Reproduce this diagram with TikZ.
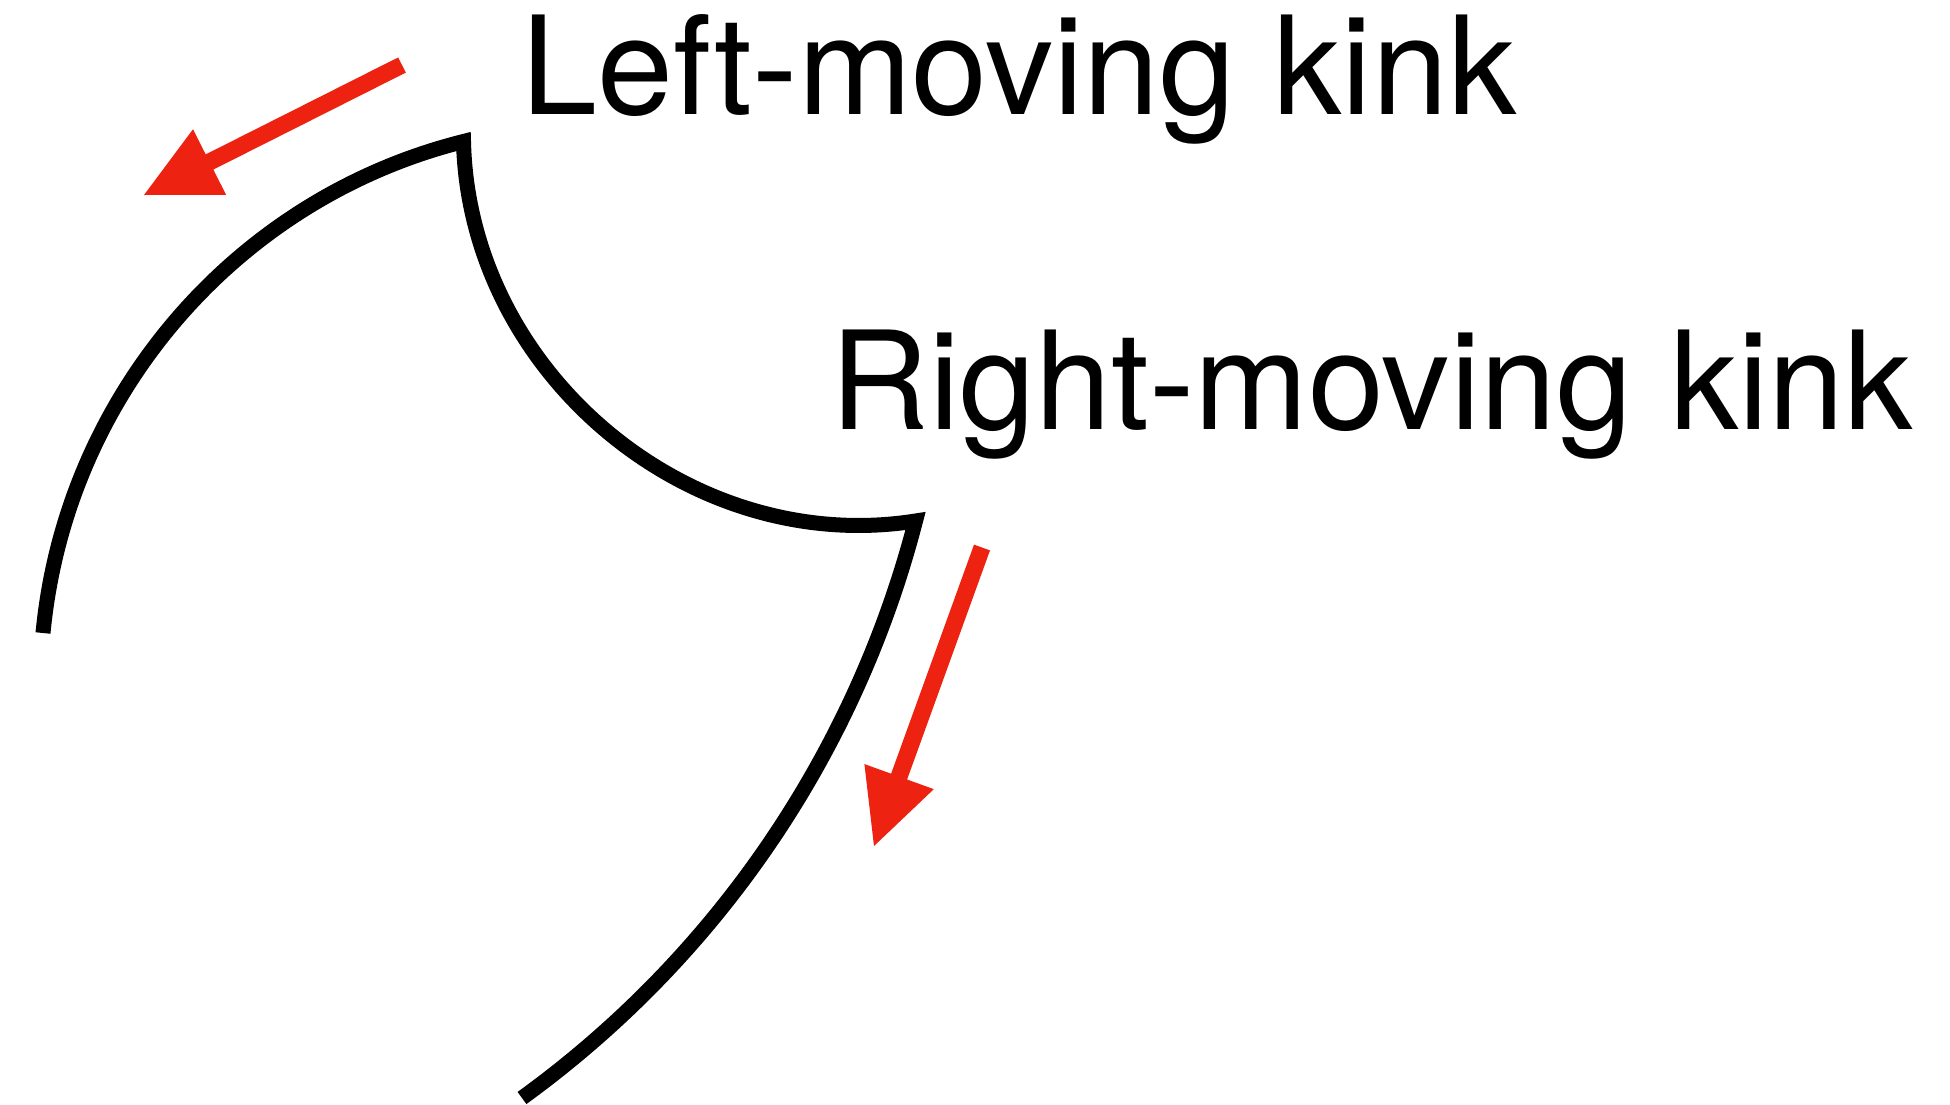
\documentclass[tikz,border=0pt]{standalone}
\usepackage{fontspec}
\setmainfont{TeX Gyre Heros}
\usetikzlibrary{calc}
\definecolor{kinkred}{RGB}{238,34,17}
\begin{document}
\begin{tikzpicture}[x=0.5pt,y=-0.5pt,
  kinkstring/.style={line width=7.5pt, line join=miter, line cap=butt, draw=black},
  arrowshaft/.style={line width=8.5pt, draw=kinkred, line cap=butt},
  tiphead/.style={fill=kinkred, draw=none},
  kinklabel/.style={font=\fontsize{68.3pt}{80pt}\selectfont, inner sep=0pt, anchor=base west}]
\path[use as bounding box] (0,0) rectangle (1950,1104);
% string with two kinks
\coordinate (E1) at (43,633);
\coordinate (K1) at (463.5,141.5);
\coordinate (K2) at (915.5,521);
\coordinate (E3) at (522,1098);
\draw[kinkstring] (E1) .. controls (65.4,397.5) and (234,199) .. (K1)
  .. controls (469,371.5) and (688.3,556.9) .. (K2)
  .. controls (855.2,753.7) and (716.6,956.9) .. (E3);
% left-moving arrow
\coordinate (T1) at (402,65);
\coordinate (P1) at (144,195);
\coordinate (B1) at ($(P1)!0.254!(T1)$);
\draw[arrowshaft] (T1) -- ($(P1)!0.5!(B1)$);
\fill[tiphead] (P1) -- ($(B1)!0.5!90:(P1)$) -- ($(B1)!0.5!-90:(P1)$) -- cycle;
% right-moving arrow
\coordinate (T2) at (982,547.5);
\coordinate (P2) at (874,846);
\coordinate (B2) at ($(P2)!0.2325!(T2)$);
\draw[arrowshaft] (T2) -- ($(P2)!0.5!(B2)$);
\fill[tiphead] (P2) -- ($(B2)!0.5!90:(P2)$) -- ($(B2)!0.5!-90:(P2)$) -- cycle;
% labels
\node[kinklabel] (lk) at (521,114.5) {Left-moving kink};
\node[kinklabel] (rk) at (830,429) {Right-moving kink};
\end{tikzpicture}
\end{document}
